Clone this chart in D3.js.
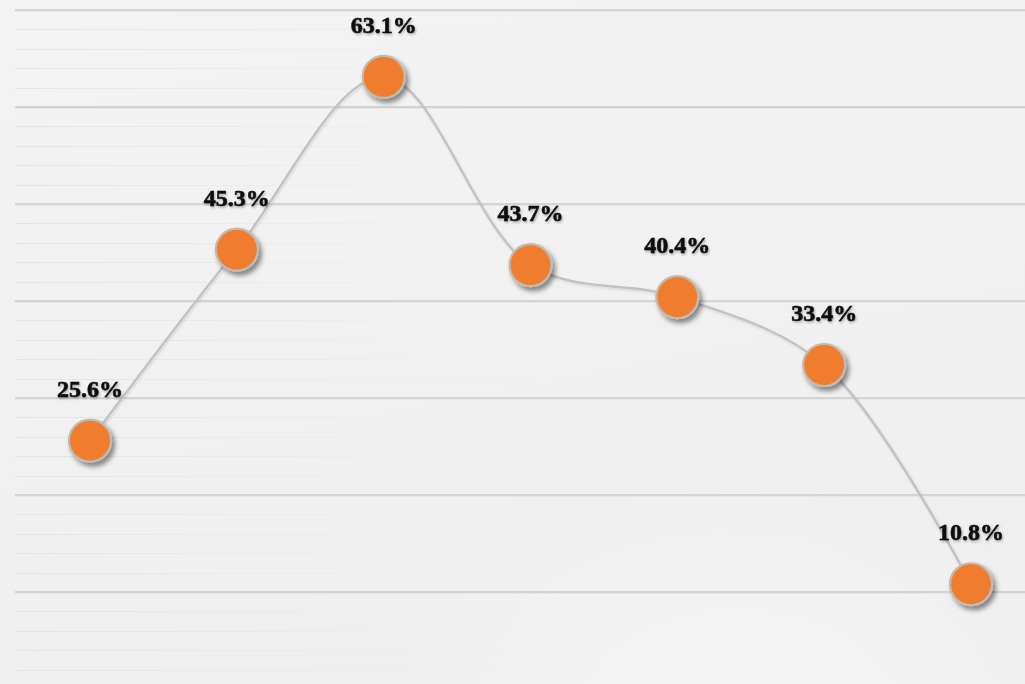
<!DOCTYPE html>
<html>
<head>
<meta charset="utf-8">
<script src="https://cdn.jsdelivr.net/npm/d3@7"></script>
<style>
  html, body { margin: 0; padding: 0; background: #f1f1f1; overflow: hidden; }
  svg { display: block; }
</style>
</head>
<body>
<svg id="chart" width="1025" height="684"></svg>
<script>
// Series: share per stage, in percent
const categories = ["1", "2", "3", "4", "5", "6", "7"];
const values = [25.6, 45.3, 63.1, 43.7, 40.4, 33.4, 10.8];
const majorTicks = [10, 20, 30, 40, 50, 60, 70];
const minorTicks = d3.range(2, 70, 2).filter(v => v % 10 !== 0);

const W = 1025, H = 684;
const svg = d3.select("#chart");
const defs = svg.append("defs");

// Background gradients
const bg = defs.append("linearGradient").attr("id", "bg")
  .attr("x1", 0).attr("y1", 0).attr("x2", 0.3).attr("y2", 1);
bg.append("stop").attr("offset", 0).attr("stop-color", "#f3f3f3");
bg.append("stop").attr("offset", 0.6).attr("stop-color", "#f1f1f1");
bg.append("stop").attr("offset", 1).attr("stop-color", "#efefef");

const glow = defs.append("radialGradient").attr("id", "glow")
  .attr("cx", 0.72).attr("cy", 1.05).attr("r", 0.35);
glow.append("stop").attr("offset", 0).attr("stop-color", "#f8f8f8").attr("stop-opacity", 0.7);
glow.append("stop").attr("offset", 1).attr("stop-color", "#f8f8f8").attr("stop-opacity", 0);

// Minor lines fade toward the right
const fade = defs.append("linearGradient").attr("id", "fade")
  .attr("gradientUnits", "userSpaceOnUse")
  .attr("x1", 15).attr("y1", 0).attr("x2", 560).attr("y2", 0);
fade.append("stop").attr("offset", 0).attr("stop-color", "#e4e4e4").attr("stop-opacity", 1);
fade.append("stop").attr("offset", 0.55).attr("stop-color", "#e8e8e8").attr("stop-opacity", 0.55);
fade.append("stop").attr("offset", 1).attr("stop-color", "#ececec").attr("stop-opacity", 0);

// Drop shadow for markers
const sh = defs.append("filter").attr("id", "shadow")
  .attr("x", "-50%").attr("y", "-50%").attr("width", "200%").attr("height", "200%");
sh.append("feDropShadow").attr("dx", 3).attr("dy", 4).attr("stdDeviation", 2.6)
  .attr("flood-color", "#000").attr("flood-opacity", 0.45);

const tsh = defs.append("filter").attr("id", "tshadow")
  .attr("x", "-20%").attr("y", "-30%").attr("width", "140%").attr("height", "160%");
tsh.append("feDropShadow").attr("dx", 1).attr("dy", 1.5).attr("stdDeviation", 1)
  .attr("flood-color", "#000").attr("flood-opacity", 0.3);

const lsh = defs.append("filter").attr("id", "lshadow")
  .attr("x", "-10%").attr("y", "-10%").attr("width", "120%").attr("height", "120%");
lsh.append("feDropShadow").attr("dx", 1).attr("dy", 1.5).attr("stdDeviation", 1)
  .attr("flood-color", "#000").attr("flood-opacity", 0.12);

svg.append("rect").attr("width", W).attr("height", H).attr("fill", "url(#bg)");
svg.append("rect").attr("width", W).attr("height", H).attr("fill", "url(#glow)");

// Scales
const x = d3.scalePoint().domain(categories).range([90, 971]);
const y = d3.scaleLinear().domain([0, 70]).range([689, 10]);

// Minor grid
svg.append("g").selectAll("line").data(minorTicks).join("line")
  .attr("x1", 15).attr("x2", W)
  .attr("y1", d => Math.round(y(d)) + 0.5).attr("y2", d => Math.round(y(d)) + 0.5)
  .attr("stroke", "url(#fade)").attr("stroke-width", 1);

// Major grid: dark line with a light line beneath
const grid = svg.append("g");
grid.selectAll("line.g1").data(majorTicks).join("line").attr("class", "g1")
  .attr("x1", 15).attr("x2", W)
  .attr("y1", d => Math.round(y(d))).attr("y2", d => Math.round(y(d)))
  .attr("stroke", "#d4d4d4").attr("stroke-width", 2);
grid.selectAll("line.g2").data(majorTicks).join("line").attr("class", "g2")
  .attr("x1", 15).attr("x2", W)
  .attr("y1", d => Math.round(y(d)) + 1.5).attr("y2", d => Math.round(y(d)) + 1.5)
  .attr("stroke", "#e8e8e8").attr("stroke-width", 1);

// Smoothed connecting line
const line = d3.line()
  .x((d, i) => x(categories[i]))
  .y(d => y(d))
  .curve(d3.curveCatmullRom.alpha(0.5));

svg.append("path").datum(values)
  .attr("d", line)
  .attr("fill", "none")
  .attr("stroke", "#c2c2c2")
  .attr("stroke-width", 2.4)
  .attr("filter", "url(#lshadow)");

// Markers
svg.append("g").selectAll("circle").data(values).join("circle")
  .attr("cx", (d, i) => x(categories[i]))
  .attr("cy", d => y(d))
  .attr("r", 21)
  .attr("fill", "#f07c2d")
  .attr("stroke", "#c2bab2")
  .attr("stroke-width", 2.2)
  .attr("filter", "url(#shadow)");

// Value labels
svg.append("g").selectAll("text").data(values).join("text")
  .attr("x", (d, i) => x(categories[i]))
  .attr("y", d => y(d) - 44)
  .attr("text-anchor", "middle")
  .attr("font-family", "'Liberation Serif', 'Times New Roman', serif")
  .attr("font-weight", "bold")
  .attr("font-size", 24)
  .attr("fill", "#111")
  .attr("stroke", "#111")
  .attr("stroke-width", 0.6)
  .attr("filter", "url(#tshadow)")
  .text(d => d.toFixed(1) + "%");
</script>
</body>
</html>
